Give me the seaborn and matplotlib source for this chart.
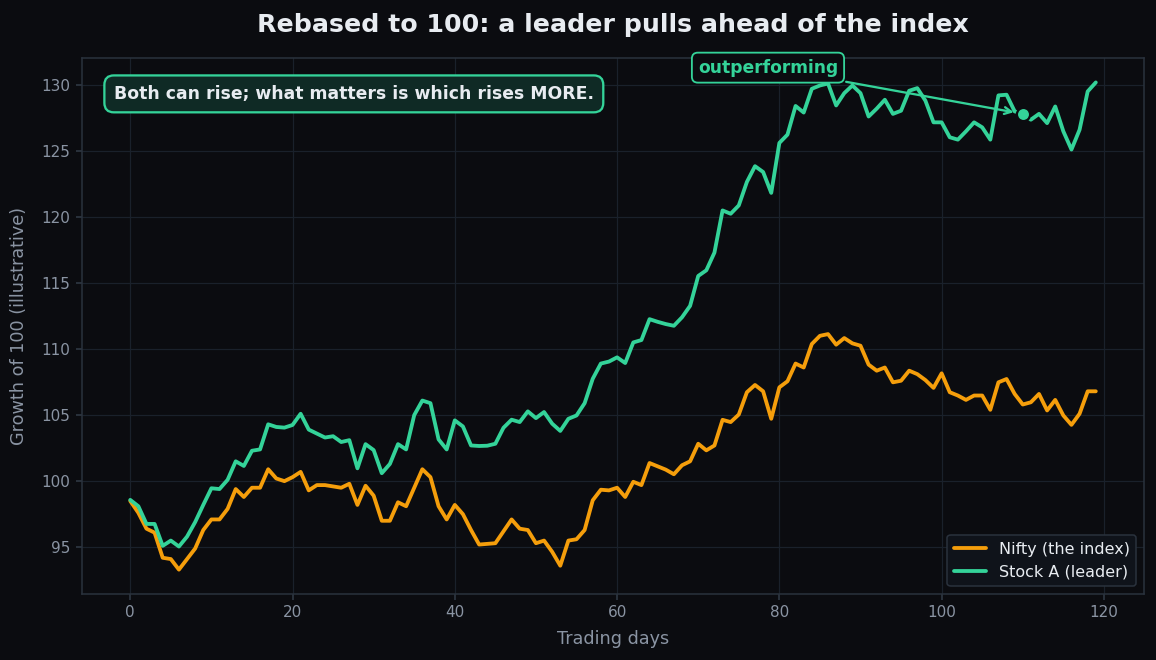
import numpy as np
import pandas as pd
import matplotlib
matplotlib.use("Agg")
import matplotlib.pyplot as plt
import seaborn as sns

# ── data ─────────────────────────────────────────────────────────────────────
days = list(range(120))

nifty = [
    98.5, 97.6, 96.4, 96.1, 94.2, 94.1, 93.3, 94.1, 94.9, 96.3,
    97.1, 97.1, 97.9, 99.4, 98.8, 99.5, 99.5, 100.9, 100.2, 100.0,
    100.3, 100.7, 99.3, 99.7, 99.7, 99.6, 99.5, 99.8, 98.2, 99.65,
    98.9, 97.0, 97.0, 98.4, 98.1, 99.5, 100.9, 100.3, 98.1, 97.1,
    98.2, 97.5, 96.3, 95.2, 95.25, 95.3, 96.2, 97.1, 96.4, 96.3,
    95.3, 95.5, 94.65, 93.6, 95.5, 95.6, 96.3, 98.55, 99.35, 99.3,
    99.5, 98.8, 99.95, 99.7, 101.37, 101.12, 100.87, 100.52, 101.2, 101.5,
    102.83, 102.33, 102.7, 104.64, 104.47, 105.04, 106.73, 107.28, 106.8, 104.72,
    107.1, 107.56, 108.9, 108.6, 110.38, 111.0, 111.13, 110.33, 110.83, 110.43,
    110.25, 108.82, 108.36, 108.6, 107.48, 107.6, 108.36, 108.1, 107.65, 107.06,
    108.16, 106.73, 106.48, 106.15, 106.48, 106.48, 105.4, 107.48, 107.73, 106.6,
    105.8, 105.97, 106.6, 105.35, 106.15, 104.97, 104.26, 105.1, 106.8, 106.8,
]

stock_a = [
    98.58, 98.1, 96.76, 96.76, 95.1, 95.5, 95.05, 95.8, 96.9, 98.2,
    99.46, 99.4, 100.1, 101.5, 101.15, 102.3, 102.4, 104.3, 104.1, 104.05,
    104.25, 105.1, 103.9, 103.6, 103.3, 103.4, 102.96, 103.1, 100.97, 102.8,
    102.35, 100.6, 101.3, 102.8, 102.4, 105.0, 106.1, 105.9, 103.16, 102.4,
    104.6, 104.14, 102.7, 102.66, 102.68, 102.83, 104.04, 104.65, 104.47, 105.28,
    104.77, 105.23, 104.35, 103.8, 104.72, 104.97, 105.9, 107.75, 108.9, 109.05,
    109.37, 108.94, 110.5, 110.68, 112.26, 112.06, 111.89, 111.76, 112.4, 113.27,
    115.53, 115.96, 117.3, 120.49, 120.24, 120.87, 122.65, 123.84, 123.4, 121.82,
    125.6, 126.23, 128.4, 127.9, 129.7, 129.95, 130.1, 128.44, 129.37, 129.95,
    129.37, 127.6, 128.2, 128.87, 127.8, 128.04, 129.55, 129.75, 128.8, 127.16,
    127.16, 126.03, 125.85, 126.48, 127.16, 126.78, 125.85, 129.2, 129.25, 127.99,
    127.8, 127.36, 127.8, 127.1, 128.36, 126.48, 125.1, 126.6, 129.5, 130.18,
]

series_names = ["Nifty (the index)", "Stock A (leader)"]
highlight_day = 110

# ── colours ──────────────────────────────────────────────────────────────────
BG = "#0b0c10"
GRID = "#1a212b"
SPINE = "#2a323d"
MUTED = "#8a94a3"
TEXT = "#e8ecf1"
ORANGE = "#f59e0b"
GREEN = "#34d399"

df = pd.DataFrame({
    "day": days * 2,
    "value": nifty + stock_a,
    "series": [series_names[0]] * len(days) + [series_names[1]] * len(days),
})

sns.set_theme(style="darkgrid")
plt.rcParams.update({
    "font.family": ["DejaVu Sans"],
    "figure.facecolor": BG,
    "axes.facecolor": BG,
    "axes.edgecolor": SPINE,
    "grid.color": GRID,
    "axes.labelcolor": MUTED,
    "xtick.color": MUTED,
    "ytick.color": MUTED,
})

fig, ax = plt.subplots(figsize=(10.51, 6.0), dpi=110)
fig.subplots_adjust(left=0.0709, right=0.9896, top=0.912, bottom=0.1)

sns.lineplot(data=df, x="day", y="value", hue="series",
             palette={series_names[0]: ORANGE, series_names[1]: GREEN},
             linewidth=2.5, ax=ax)

# highlighted point + callout
ax.scatter([highlight_day], [stock_a[highlight_day]], s=75, color=GREEN,
           edgecolor=BG, linewidth=1.5, zorder=5)
ax.annotate("outperforming", xy=(highlight_day, stock_a[highlight_day]),
            xytext=(78.6, 131.3), ha="center", va="center",
            fontsize=11.2, fontweight="bold", color=GREEN,
            bbox=dict(boxstyle="round,pad=0.35", fc=BG, ec=GREEN, lw=1.2),
            arrowprops=dict(arrowstyle="->", color=GREEN, lw=1.5, shrinkB=6))

ax.text(0.03, 0.95, "Both can rise; what matters is which rises MORE.",
        transform=ax.transAxes, ha="left", va="top",
        fontsize=11.25, fontweight="bold", color=TEXT,
        bbox=dict(boxstyle="round,pad=0.55", fc="#0f2a25", ec=GREEN, lw=1.5))

ax.set_title("Rebased to 100: a leader pulls ahead of the index",
             fontsize=16.5, fontweight="bold", color=TEXT, pad=17)
ax.set_xlabel("Trading days", fontsize=11.5, labelpad=6)
ax.set_ylabel("Growth of 100 (illustrative)", fontsize=11.5, labelpad=9)
ax.tick_params(axis="both", labelsize=10, length=4, color=SPINE, bottom=True, left=True)
ax.grid(True, color=GRID, linewidth=0.8)
for spine in ax.spines.values():
    spine.set_visible(True)
    spine.set_color(SPINE)
    spine.set_linewidth(1.0)

leg = ax.legend(loc="lower right", fontsize=10.5, facecolor="#0f131a",
                edgecolor=SPINE, framealpha=1.0)
for t in leg.get_texts():
    t.set_color(TEXT)

plt.savefig("out.png", dpi=110, facecolor=BG)
plt.close()
